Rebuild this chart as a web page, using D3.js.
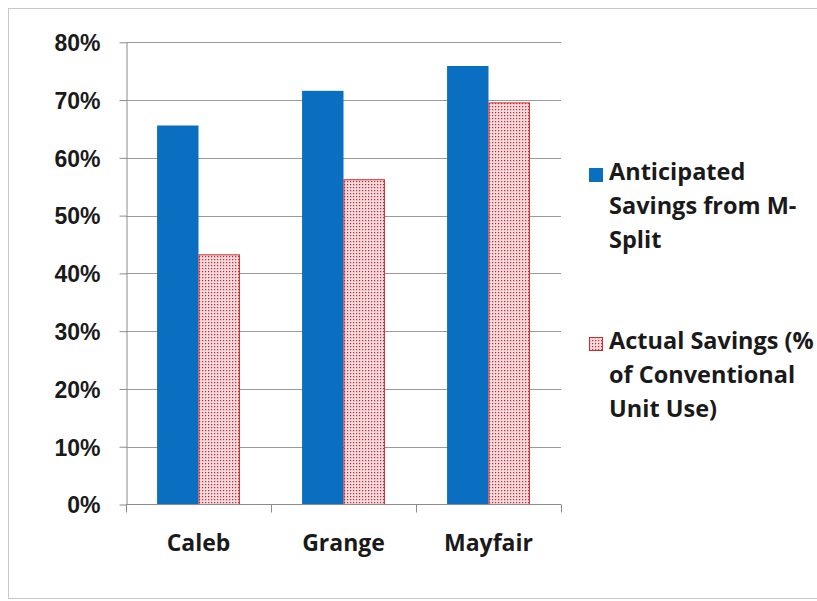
<!DOCTYPE html>
<html>
<head>
<meta charset="utf-8">
<script src="https://cdn.jsdelivr.net/npm/d3@7"></script>
<style>
  html, body { margin: 0; padding: 0; background: #fff; overflow: hidden; }
  svg { display: block; font-family: "Open Sans", "Liberation Sans", sans-serif; }
  .lbl { font-weight: 700; fill: #1a1a1a; }
</style>
</head>
<body>
<svg id="chart" width="817" height="601"></svg>
<script>
// Sites compared
const categories = ["Caleb", "Grange", "Mayfair"];
// Series names (legend lines are pre-wrapped the way the legend shows them)
const seriesNames = ["Anticipated Savings from M-Split", "Actual Savings (% of Conventional Unit Use)"];
const legendLines = [
  ["Anticipated", "Savings from M-", "Split"],
  ["Actual Savings (%", "of Conventional", "Unit Use)"]
];
// Savings as a fraction of conventional unit use
const anticipated = [0.656, 0.716, 0.759];
const actual = [0.433, 0.563, 0.696];
// Y axis ticks
const yTicks = [0, 0.1, 0.2, 0.3, 0.4, 0.5, 0.6, 0.7, 0.8];

const svg = d3.select("#chart");
const plot = { left: 126, right: 561, top: 42.3, bottom: 504.5 };

// Outer chart frame
svg.append("rect")
  .attr("x", 8.5).attr("y", 8.5)
  .attr("width", 840).attr("height", 590)
  .attr("fill", "none").attr("stroke", "#c8c8c8").attr("stroke-width", 1);

// Dotted red fill for the actual-savings bars
const defs = svg.append("defs");
const pat = defs.append("pattern")
  .attr("id", "dots").attr("patternUnits", "userSpaceOnUse")
  .attr("width", 3).attr("height", 3);
pat.append("rect").attr("width", 3).attr("height", 3).attr("fill", "#f5d9db");
pat.append("rect").attr("x", 1).attr("y", 1).attr("width", 1.2).attr("height", 1.2).attr("fill", "#b42c38");

const y = d3.scaleLinear().domain([0, 0.8]).range([plot.bottom, plot.top]);
const x0 = d3.scaleBand().domain(categories).range([plot.left, plot.right]).paddingInner(0).paddingOuter(0);
const x1 = d3.scaleBand().domain(seriesNames).range([0, x0.bandwidth()]).paddingInner(0).paddingOuter(0.75);

// Horizontal gridlines
svg.append("g").selectAll("line")
  .data(yTicks.slice(1))
  .join("line")
  .attr("x1", plot.left).attr("x2", plot.right)
  .attr("y1", d => Math.round(y(d)) + 0.5).attr("y2", d => Math.round(y(d)) + 0.5)
  .attr("stroke", "#9a9a9a").attr("stroke-width", 1);

// Bars
const rows = categories.map((c, i) => ({ cat: c, vals: [anticipated[i], actual[i]] }));
const groups = svg.append("g").selectAll("g")
  .data(rows).join("g")
  .attr("transform", d => `translate(${x0(d.cat)},0)`);

groups.selectAll("rect")
  .data(d => d.vals.map((v, k) => ({ v, s: seriesNames[k], k })))
  .join("rect")
  .attr("x", d => x1(d.s) + (d.k === 1 ? 0.5 : 0))
  .attr("width", d => x1.bandwidth() - (d.k === 1 ? 1 : 0))
  .attr("y", d => y(d.v) + (d.k === 1 ? 0.5 : 0))
  .attr("height", d => y(0) - y(d.v) - (d.k === 1 ? 0.5 : 0))
  .attr("fill", d => d.k === 0 ? "#0a6fc0" : "url(#dots)")
  .attr("stroke", d => d.k === 0 ? "none" : "#d42a2a")
  .attr("stroke-width", 1);

// Y axis
const yAxis = d3.axisLeft(y).tickValues(yTicks).tickFormat(d3.format(".0%"))
  .tickSizeInner(7).tickSizeOuter(0).tickPadding(19);
const gy = svg.append("g").attr("transform", `translate(${plot.left + 0.5},0)`).call(yAxis);
gy.select(".domain").attr("stroke", "#8c8c8c");
gy.selectAll(".tick line").attr("stroke", "#8c8c8c");
gy.selectAll(".tick text").attr("class", "lbl").attr("font-size", 23).attr("dy", "0.36em");

// X axis: boundary ticks between categories, labels centred in each band
const bounds = d3.range(categories.length + 1).map(i => plot.left + i * x0.step());
const gx = svg.append("g");
gx.append("line")
  .attr("x1", plot.left).attr("x2", plot.right)
  .attr("y1", y(0)).attr("y2", y(0))
  .attr("stroke", "#8c8c8c");
gx.selectAll("line.b").data(bounds).join("line").attr("class", "b")
  .attr("x1", d => Math.round(d) + 0.5).attr("x2", d => Math.round(d) + 0.5)
  .attr("y1", y(0)).attr("y2", y(0) + 8)
  .attr("stroke", "#8c8c8c");
gx.selectAll("text").data(categories).join("text")
  .attr("class", "lbl").attr("font-size", 23)
  .attr("text-anchor", "middle")
  .attr("x", d => x0(d) + x0.bandwidth() / 2)
  .attr("y", 550.5)
  .text(d => d);

// Legend
const legendTop = [163, 332];
const swatchFill = ["#0a6fc0", "url(#dots)"];
legendLines.forEach((lines, k) => {
  const g = svg.append("g");
  g.append("rect")
    .attr("x", k === 1 ? 589.5 : 589).attr("y", legendTop[k] + (k === 1 ? 5.5 : 5))
    .attr("width", k === 1 ? 13 : 14).attr("height", k === 1 ? 13 : 14)
    .attr("fill", swatchFill[k])
    .attr("stroke", k === 1 ? "#d42a2a" : "none");
  g.selectAll("text").data(lines).join("text")
    .attr("class", "lbl").attr("font-size", 23.5)
    .attr("x", 609)
    .attr("y", (d, i) => legendTop[k] + 17 + i * 34)
    .text(d => d);
});
</script>
</body>
</html>
